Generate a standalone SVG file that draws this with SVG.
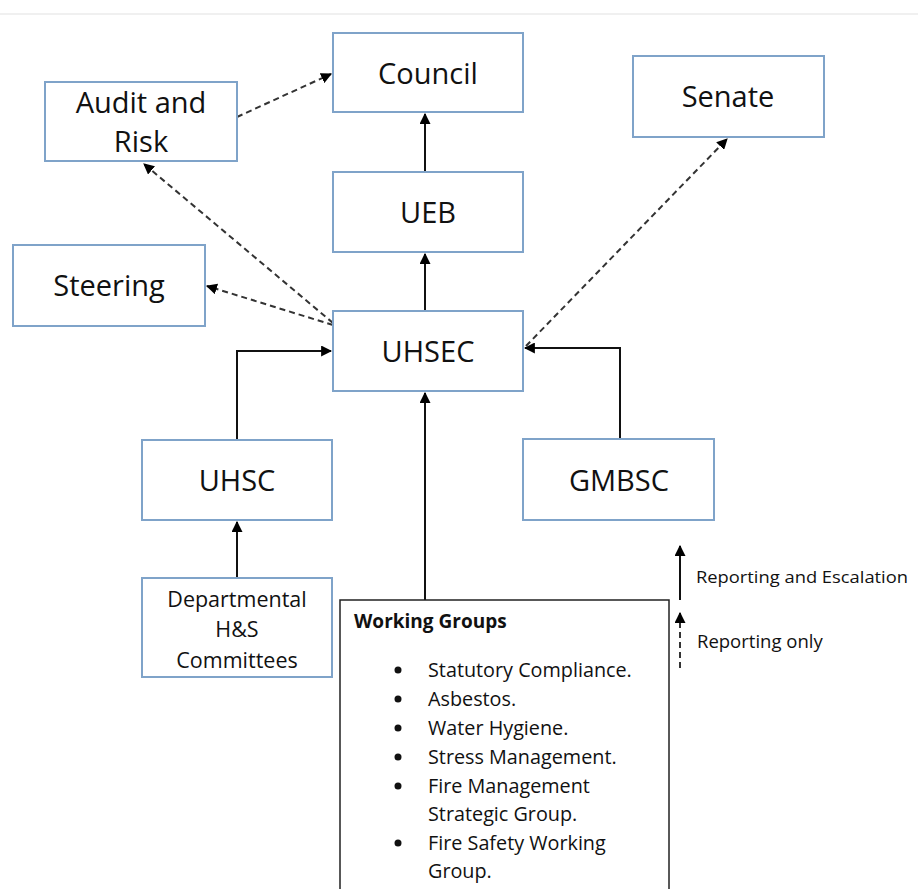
<svg xmlns="http://www.w3.org/2000/svg" width="918" height="889" viewBox="0 0 918 889">
<style>
.box{fill:#fff;stroke:#7fa3c9;stroke-width:2}
.lbl{font-family:"Open Sans","Noto Sans",sans-serif;font-size:29px;fill:#111;text-anchor:middle}
.small{font-family:"Open Sans","Noto Sans",sans-serif;font-size:21.5px;fill:#111;text-anchor:middle}
.wg{font-family:"Open Sans","Noto Sans",sans-serif;font-size:19.8px;fill:#111}
.wgh{font-family:"Open Sans","Noto Sans",sans-serif;font-size:19px;font-weight:bold;fill:#111}
.leg{font-family:"Open Sans","Noto Sans",sans-serif;font-size:17px;fill:#111}
.leg2{font-family:"Open Sans","Noto Sans",sans-serif;font-size:18.5px;fill:#111}
.solid{fill:none;stroke:#111;stroke-width:2}
.dash{fill:none;stroke:#333;stroke-width:2;stroke-dasharray:6 4}
</style>
<defs>
<marker id="ah" viewBox="0 0 10 10" refX="9" refY="5" markerWidth="5.5" markerHeight="5.5" orient="auto" markerUnits="strokeWidth">
<path d="M0,0 L10,5 L0,10 z" fill="#000"/>
</marker>
</defs>
<rect x="0" y="0" width="918" height="889" fill="#fff"/>
<line x1="0" y1="14" x2="918" y2="14" stroke="#f0f0f0" stroke-width="2"/>

<g id="connectors">
<path class="dash" d="M237,117 L331,74" marker-end="url(#ah)"/>
<path class="solid" d="M425,172 L425,114" marker-end="url(#ah)"/>
<path class="solid" d="M425,311 L425,254" marker-end="url(#ah)"/>
<path class="dash" d="M333,323 L144,164" marker-end="url(#ah)"/>
<path class="dash" d="M333,325 L207,286" marker-end="url(#ah)"/>
<path class="dash" d="M526,346 L727,139" marker-end="url(#ah)"/>
<path class="solid" d="M237,440 L237,351 L331,351" marker-end="url(#ah)"/>
<path class="solid" d="M620,439 L620,348 L525,348" marker-end="url(#ah)"/>
<path class="solid" d="M425,600 L425,393" marker-end="url(#ah)"/>
<path class="solid" d="M237,578 L237,522" marker-end="url(#ah)"/>
</g>

<g id="council"><rect class="box" x="333" y="33" width="190" height="79"/><text class="lbl" x="428" y="84">Council</text></g>
<g id="audit"><rect class="box" x="45" y="82" width="192" height="79"/><text class="lbl" x="141" y="113">Audit and</text><text class="lbl" x="141" y="152">Risk</text></g>
<g id="senate"><rect class="box" x="633" y="56" width="191" height="81"/><text class="lbl" x="728" y="107">Senate</text></g>
<g id="ueb"><rect class="box" x="333" y="172" width="190" height="80"/><text class="lbl" x="428" y="223">UEB</text></g>
<g id="steering"><rect class="box" x="13" y="245" width="192" height="81"/><text class="lbl" x="109" y="296">Steering</text></g>
<g id="uhsec"><rect class="box" x="333" y="311" width="190" height="80"/><text class="lbl" x="428" y="362">UHSEC</text></g>
<g id="uhsc"><rect class="box" x="142" y="440" width="190" height="80"/><text class="lbl" x="237" y="491">UHSC</text></g>
<g id="gmbsc"><rect class="box" x="523" y="439" width="191" height="81"/><text class="lbl" x="619" y="491">GMBSC</text></g>
<g id="departmental"><rect class="box" x="142" y="578" width="190" height="99"/><text class="small" x="237" y="607">Departmental</text><text class="small" x="237" y="637">H&amp;S</text><text class="small" x="237" y="668">Committees</text></g>

<g id="working-groups">
<rect x="340" y="600" width="329" height="295" fill="#fff" stroke="#222" stroke-width="1.5"/>
<text class="wgh" x="354" y="628">Working Groups</text>
<g fill="#111">
<circle cx="398" cy="670" r="3.5"/><circle cx="398" cy="699" r="3.5"/><circle cx="398" cy="728" r="3.5"/><circle cx="398" cy="757" r="3.5"/><circle cx="398" cy="786" r="3.5"/><circle cx="398" cy="843" r="3.5"/>
</g>
<text class="wg" x="428" y="677">Statutory Compliance.</text>
<text class="wg" x="428" y="706">Asbestos.</text>
<text class="wg" x="428" y="735">Water Hygiene.</text>
<text class="wg" x="428" y="764">Stress Management.</text>
<text class="wg" x="428" y="793">Fire Management</text>
<text class="wg" x="428" y="821">Strategic Group.</text>
<text class="wg" x="428" y="850">Fire Safety Working</text>
<text class="wg" x="428" y="878">Group.</text>
</g>

<g id="legend">
<path class="solid" d="M680,600 L680,546" marker-end="url(#ah)"/>
<path class="dash" d="M680,668 L680,613" marker-end="url(#ah)" stroke-dasharray="5 4"/>
<text class="leg" x="696" y="583" textLength="212" lengthAdjust="spacingAndGlyphs">Reporting and Escalation</text>
<text class="leg2" x="697" y="648">Reporting only</text>
</g>
</svg>
